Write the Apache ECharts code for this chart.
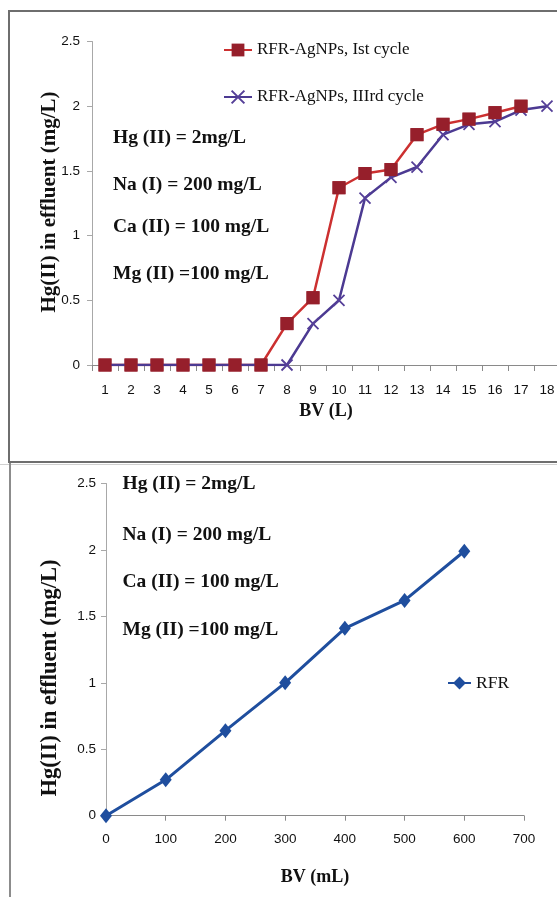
<!DOCTYPE html>
<html>
<head>
<meta charset="utf-8">
<script src="https://cdn.jsdelivr.net/npm/echarts@6/dist/echarts.min.js"></script>
<style>
  html, body { margin: 0; padding: 0; background: #ffffff; }
  #chart { width: 557px; height: 897px; }
</style>
</head>
<body>
<div id="chart"></div>
<script>
// Column breakthrough of Hg(II) in the presence of competing ions
const bedVolumesL = ['1', '2', '3', '4', '5', '6', '7', '8', '9', '10', '11', '12', '13', '14', '15', '16', '17', '18'];
const firstCycle = [0, 0, 0, 0, 0, 0, 0, 0.32, 0.52, 1.37, 1.48, 1.51, 1.78, 1.86, 1.90, 1.95, 2.00];
const thirdCycle = [0, 0, 0, 0, 0, 0, 0, 0, 0.32, 0.50, 1.29, 1.45, 1.53, 1.78, 1.86, 1.88, 1.97, 2.00];

const bedVolumesML = [0, 100, 200, 300, 400, 500, 600];
const rfrValues = [0, 0.27, 0.64, 1.00, 1.41, 1.62, 1.99];

const conditionLines = ['Hg (II) = 2mg/L', 'Na (I) = 200 mg/L', 'Ca (II) = 100 mg/L', 'Mg (II) =100 mg/L'];
const yTitle = 'Hg(II) in effluent (mg/L)';
const nameFirst = 'RFR-AgNPs, Ist cycle';
const nameThird = 'RFR-AgNPs, IIIrd cycle';

const SERIF = "'Liberation Serif', 'Times New Roman', serif";
const SANS = "'Liberation Sans', Arial, sans-serif";

const tickLabel = { fontFamily: SANS, fontSize: 13.5, color: '#111' };
const axisNameStyle = { fontFamily: SERIF, fontSize: 18, fontWeight: 'bold', color: '#111' };

function conditionTexts(x, ys) {
  return conditionLines.map((t, i) => ({
    type: 'text', x: x, y: ys[i], silent: true,
    style: { text: t, fontFamily: SERIF, fontSize: 19.5, fontWeight: 'bold', fill: '#111', align: 'left', verticalAlign: 'middle' }
  }));
}

function verticalTitle(x, y, size) {
  return {
    type: 'text', x: x, y: y, rotation: Math.PI / 2, silent: true,
    style: { text: yTitle, fontFamily: SERIF, fontSize: size, fontWeight: 'bold', fill: '#111', align: 'center', verticalAlign: 'middle' }
  };
}

const chart = echarts.init(document.getElementById('chart'), null, { renderer: 'canvas' });

chart.setOption({
  animation: false,
  backgroundColor: '#ffffff',
  grid: [
    { left: 92, top: 41.5, width: 468, height: 323.5, outerBoundsMode: 'none', containLabel: false },
    { left: 106, top: 483.5, width: 418, height: 332.2, outerBoundsMode: 'none', containLabel: false }
  ],
  xAxis: [
    {
      type: 'category', gridIndex: 0, data: bedVolumesL, boundaryGap: true,
      axisLine: { show: true, lineStyle: { color: '#8a8a8a', width: 1 } },
      axisTick: { show: true, length: 6, interval: 0, lineStyle: { color: '#8a8a8a' } },
      axisLabel: Object.assign({ margin: 18, interval: 0 }, tickLabel),
      splitLine: { show: false },
      name: 'BV (L)', nameLocation: 'middle', nameGap: 37, nameTextStyle: axisNameStyle
    },
    {
      type: 'value', gridIndex: 1, min: 0, max: 700, interval: 100,
      axisLine: { show: true, lineStyle: { color: '#8a8a8a', width: 1 } },
      axisTick: { show: true, length: 5, lineStyle: { color: '#8a8a8a' } },
      axisLabel: Object.assign({ margin: 17 }, tickLabel),
      splitLine: { show: false },
      name: 'BV (mL)', nameLocation: 'middle', nameGap: 53, nameTextStyle: axisNameStyle
    }
  ],
  yAxis: [
    {
      type: 'value', gridIndex: 0, min: 0, max: 2.5, interval: 0.5,
      axisLine: { show: true, lineStyle: { color: '#a8a8a8', width: 1 } },
      axisTick: { show: true, length: 5, lineStyle: { color: '#a8a8a8' } },
      axisLabel: Object.assign({ margin: 12 }, tickLabel),
      splitLine: { show: false }
    },
    {
      type: 'value', gridIndex: 1, min: 0, max: 2.5, interval: 0.5,
      axisLine: { show: true, lineStyle: { color: '#a8a8a8', width: 1 } },
      axisTick: { show: true, length: 5, lineStyle: { color: '#a8a8a8' } },
      axisLabel: Object.assign({ margin: 10 }, tickLabel),
      splitLine: { show: false }
    }
  ],
  legend: [
    {
      data: [nameFirst, nameThird], orient: 'vertical', left: 218, top: 35,
      itemWidth: 28, itemHeight: 16, itemGap: 27, selectedMode: false,
      textStyle: { fontFamily: SERIF, fontSize: 17, color: '#111', lineHeight: 20 }
    },
    {
      data: ['RFR'], orient: 'vertical', left: 442, top: 668,
      itemWidth: 23, itemHeight: 16, selectedMode: false,
      textStyle: { fontFamily: SERIF, fontSize: 17.5, color: '#111', lineHeight: 20 }
    }
  ],
  series: [
    {
      name: nameFirst, type: 'line', xAxisIndex: 0, yAxisIndex: 0, data: firstCycle, z: 2,
      symbol: 'rect', symbolSize: 13, showAllSymbol: true,
      itemStyle: { color: '#961f2b' },
      lineStyle: { color: '#cc3030', width: 2.5 }
    },
    {
      name: nameThird, type: 'line', xAxisIndex: 0, yAxisIndex: 0, data: thirdCycle, z: 3,
      symbol: 'path://M0,0L10,10M10,0L0,10', symbolSize: 11, showAllSymbol: true,
      itemStyle: { color: '#553f98', borderColor: '#553f98', borderWidth: 1.8 },
      lineStyle: { color: '#4c3a92', width: 2.5 }
    },
    {
      // square markers of the first cycle kept above the third-cycle line
      name: nameFirst, type: 'line', xAxisIndex: 0, yAxisIndex: 0, data: firstCycle, z: 4,
      symbol: 'rect', symbolSize: 13, showAllSymbol: true, silent: true,
      itemStyle: { color: '#961f2b' },
      lineStyle: { width: 0, opacity: 0 }
    },
    {
      name: 'RFR', type: 'line', xAxisIndex: 1, yAxisIndex: 1,
      data: bedVolumesML.map((v, i) => [v, rfrValues[i]]),
      symbol: 'diamond', symbolSize: [12, 15], showAllSymbol: true,
      itemStyle: { color: '#1f4e9e' },
      lineStyle: { color: '#1f4e9e', width: 3 }
    }
  ],
  graphic: [
    { type: 'rect', silent: true, shape: { x: 9, y: 11, width: 580, height: 451 }, style: { fill: null, stroke: '#6e6e6e', lineWidth: 2 } },
    { type: 'line', silent: true, shape: { x1: 0, y1: 464.5, x2: 600, y2: 464.5 }, style: { stroke: '#d0d0d0', lineWidth: 1 } },
    { type: 'line', silent: true, shape: { x1: 10, y1: 463, x2: 10, y2: 900 }, style: { stroke: '#8c8c8c', lineWidth: 2 } },
    verticalTitle(50, 202, 21),
    verticalTitle(50, 678, 22.5)
  ].concat(conditionTexts(113, [137.7, 185, 226.7, 274]), conditionTexts(122.5, [483.5, 535, 581.7, 630]))
});
</script>
</body>
</html>
